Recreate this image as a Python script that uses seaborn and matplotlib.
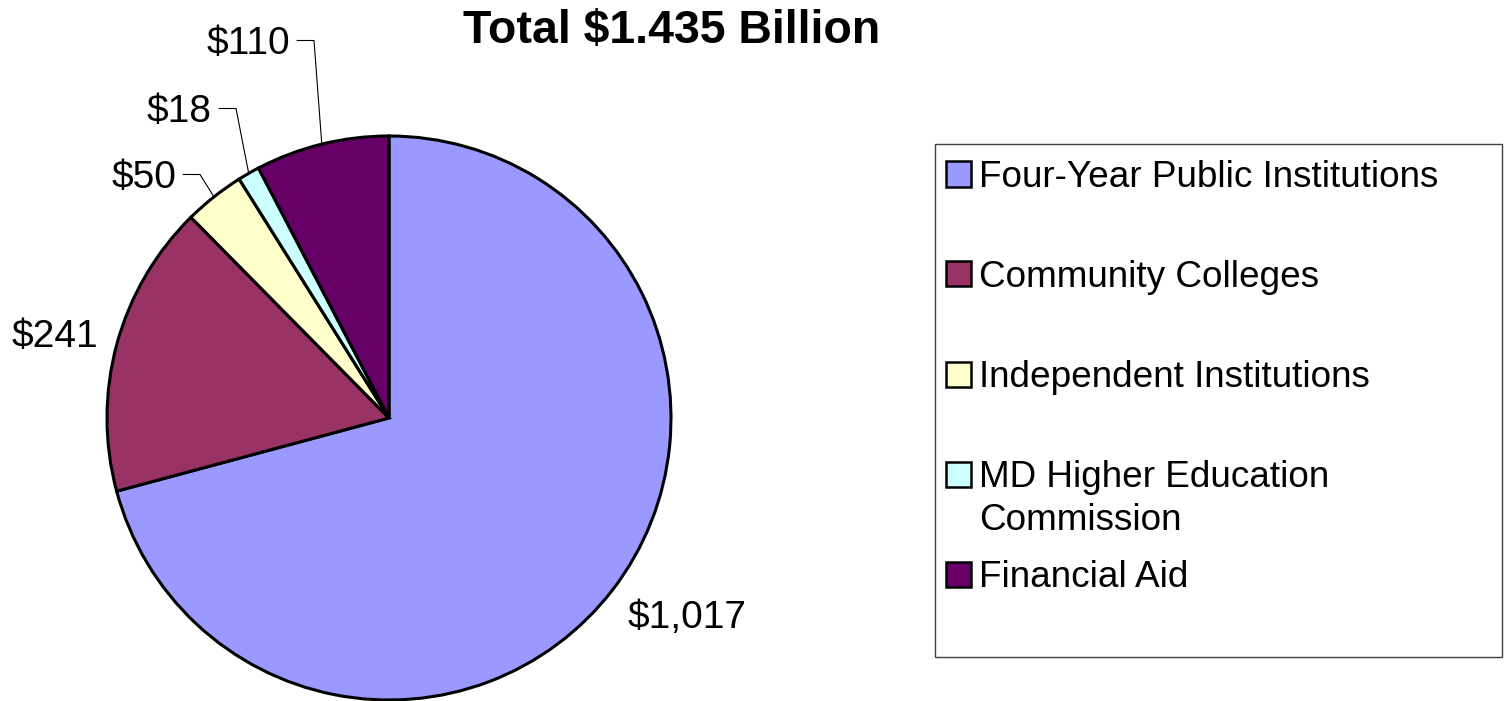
import numpy as np
import matplotlib
matplotlib.use("Agg")
import matplotlib.pyplot as plt
import seaborn as sns
from matplotlib.patches import Rectangle

# ---- data ----
categories = ["Four-Year Public Institutions", "Community Colleges",
              "Independent Institutions", "MD Higher Education\nCommission",
              "Financial Aid"]
values = [1017, 241, 50, 18, 110]
value_labels = ["$1,017", "$241", "$50", "$18", "$110"]
colors = ["#9999FF", "#993366", "#FFFFCC", "#CCFFFF", "#660066"]
title = "Total $1.435 Billion"

sns.set_theme(style="white")
plt.rcParams['font.family'] = ['Liberation Sans', 'DejaVu Sans']
plt.rcParams['text.parse_math'] = False

W, H = 1505, 701
fig = plt.figure(figsize=(W / 100, H / 100), dpi=100)
fig.patch.set_facecolor("white")

# pie axes: center (389,418) px, radius 282 px
cx, cy, r = 389, 418, 282
ax = fig.add_axes([(cx - r) / W, (H - cy - r) / H, 2 * r / W, 2 * r / H])
wedges, _ = ax.pie(values, colors=colors, startangle=90, counterclock=False,
                   radius=1.0,
                   wedgeprops=dict(edgecolor="black", linewidth=2.2))
for w in wedges:
    w.set_clip_on(False)
ax.set_xlim(-1, 1)
ax.set_ylim(-1, 1)
ax.set_aspect("equal")
ax.axis("off")

def px2d(px, py):
    return (px - cx) / r, (cy - py) / r

label_fs = 28
cap_half = 13.5
# label layouts (pixel x anchor, baseline y) and whether a leader is drawn
layouts = [
    dict(pos=(687, 628), ha="center", leader=False),
    dict(pos=(55, 347), ha="center", leader=False),
    dict(pos=(176, 188), ha="right", leader=True),
    dict(pos=(212, 122), ha="right", leader=True),
    dict(pos=(290, 54), ha="right", leader=True),
]
for w, lab, lay in zip(wedges, value_labels, layouts):
    tx, ty = px2d(*lay["pos"])
    ax.text(tx, ty, lab, ha=lay["ha"], va="baseline", fontsize=label_fs,
            color="black", clip_on=False)
    if lay["leader"]:
        mid = np.deg2rad((w.theta1 + w.theta2) / 2)
        ex, ey = np.cos(mid), np.sin(mid)
        x1, ly = px2d(lay["pos"][0] + 7, lay["pos"][1] - cap_half)
        x2, _ = px2d(lay["pos"][0] + 24, 0)
        ax.plot([x1, x2, ex], [ly, ly, ey], color="black", lw=0.8,
                clip_on=False)

# title
fig.text(672 / W, 1 - 43 / H, title, ha="center", va="baseline",
         fontsize=33.5, fontweight="bold", color="black")

# legend (manual layout to match reference spacing)
fig.patches.append(Rectangle((935 / W, 1 - 657 / H), (1502 - 935) / W,
                             (657 - 144) / H, transform=fig.transFigure,
                             facecolor="white", edgecolor="#404040", lw=1.0))
entry_base = [187, 287, 387, 487, 587]
for cat, col, yb in zip(categories, colors, entry_base):
    yy = yb - 13
    fig.patches.append(Rectangle((946 / W, 1 - (yy + 12.5) / H), 25 / W,
                                 25 / H, transform=fig.transFigure,
                                 facecolor=col, edgecolor="black", lw=1.8))
    lines = cat.split("\n")
    for k, line in enumerate(lines):
        fig.text(979 / W, 1 - (yb + 43 * k) / H, line, ha="left",
                 va="baseline", fontsize=26.6, color="black")

fig.savefig("out.png", dpi=100, facecolor="white")
